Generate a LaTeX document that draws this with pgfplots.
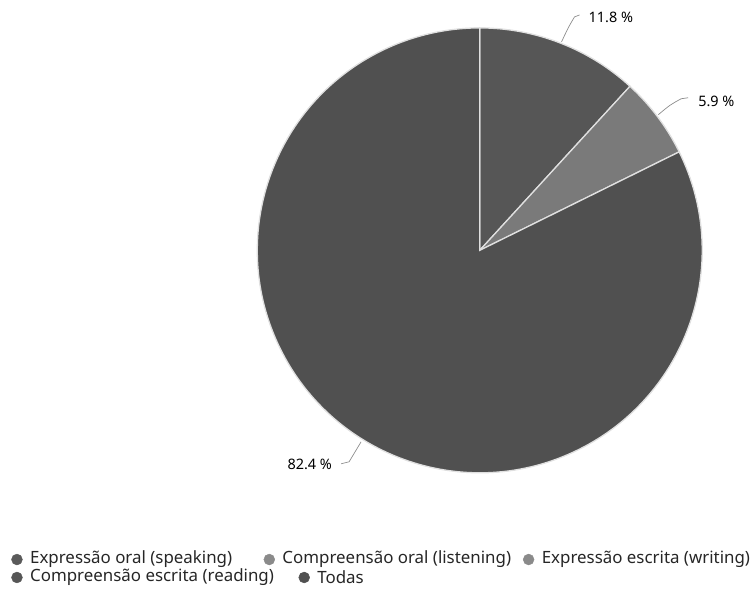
\documentclass[border=0pt]{standalone}
\usepackage{fontspec}
\setmainfont{Noto Sans}
\usepackage{pgfplots}
\usepackage{pgfplotstable}
\pgfplotsset{compat=1.18}

\definecolor{sliceA}{HTML}{565656}
\definecolor{sliceB}{HTML}{7A7A7A}
\definecolor{sliceC}{HTML}{505050}
\definecolor{dotA}{HTML}{5A5A5A}
\definecolor{dotB}{HTML}{8A8A8A}
\definecolor{leader}{HTML}{8C8C8C}

% shares in percent, clockwise from 12 o'clock
\pgfplotstableread{
share
11.8
5.9
82.4
}\piedata

\begin{document}
\begin{tikzpicture}
\pgfplotstablegetelem{0}{share}\of\piedata \pgfmathsetmacro\sa{\pgfplotsretval}
\pgfplotstablegetelem{1}{share}\of\piedata \pgfmathsetmacro\sb{\pgfplotsretval}
\pgfmathsetmacro\angA{90-3.6*\sa}
\pgfmathsetmacro\angB{\angA-3.6*\sb}
\begin{axis}[
    x=1bp, y=1bp,
    xmin=0, xmax=750, ymin=0, ymax=595,
    hide axis, clip=false,
    scale only axis,
]
\path (axis cs:0,0) rectangle (axis cs:750,595);

% slices
\filldraw[fill=sliceA, draw=white!88!black, line width=1.3pt]
  (axis cs:481,344) -- ++(90:223bp) arc[start angle=90, end angle=\angA, radius=223bp] -- cycle;
\filldraw[fill=sliceB, draw=white!88!black, line width=1.3pt]
  (axis cs:481,344) -- ++(\angA:223bp) arc[start angle=\angA, end angle=\angB, radius=223bp] -- cycle;
\filldraw[fill=sliceC, draw=white!88!black, line width=1.3pt]
  (axis cs:481,344) -- ++(\angB:223bp) arc[start angle=\angB, end angle=-270, radius=223bp] -- cycle;

% leaders and labels
\draw[leader, line width=0.7pt] (axis cs:563,553) .. controls (axis cs:570,568) .. (axis cs:576,578) -- (axis cs:581,580);
\node[anchor=west, font=\fontsize{14.5}{16}\selectfont, inner sep=0pt] at (axis cs:590,578) {11.8 \%};
\draw[leader, line width=0.7pt] (axis cs:660,480) .. controls (axis cs:672,490) .. (axis cs:683,496) -- (axis cs:690,497);
\node[anchor=west, font=\fontsize{14.5}{16}\selectfont, inner sep=0pt] at (axis cs:700,493) {5.9 \%};
\draw[leader, line width=0.7pt] (axis cs:362,152) .. controls (axis cs:356,142) .. (axis cs:350,132) -- (axis cs:342,130);
\node[anchor=east, font=\fontsize{14.5}{16}\selectfont, inner sep=0pt] at (axis cs:333,129) {82.4 \%};

% legend dots
\addplot[only marks, mark=*, mark size=5.5pt, color=dotA] coordinates {(17,34)};
\addplot[only marks, mark=*, mark size=5.5pt, color=dotB] coordinates {(270,34)};
\addplot[only marks, mark=*, mark size=5.5pt, color=dotB] coordinates {(530,34)};
\addplot[only marks, mark=*, mark size=5.5pt, color=sliceA] coordinates {(17,16)};
\addplot[only marks, mark=*, mark size=5.5pt, color=sliceC] coordinates {(305,16)};

\begin{scope}[every node/.style={anchor=west, inner sep=0pt, font=\fontsize{17}{18}\selectfont, text=black!85}]
\node at (axis cs:30,34) {Expressão oral (speaking)};
\node at (axis cs:283,34) {Compreensão oral (listening)};
\node at (axis cs:543,34) {Expressão escrita (writing)};
\node at (axis cs:30,16) {Compreensão escrita (reading)};
\node at (axis cs:318,16) {Todas};
\end{scope}
\end{axis}
\end{tikzpicture}
\end{document}
